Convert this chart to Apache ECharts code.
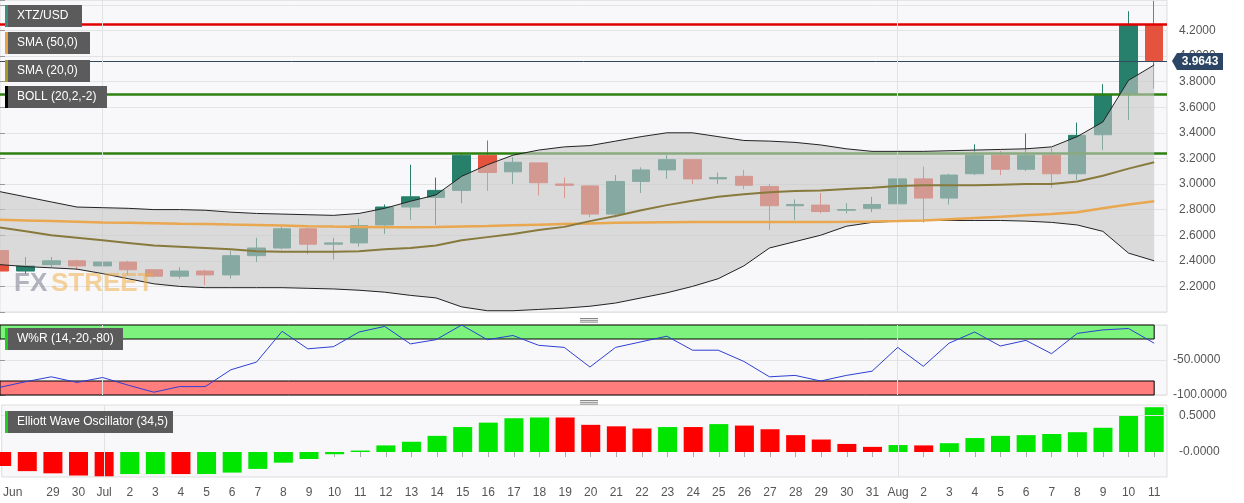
<!DOCTYPE html>
<html><head><meta charset="utf-8">
<script src="https://cdn.jsdelivr.net/npm/echarts@6/dist/echarts.min.js"></script>
<style>html,body{margin:0;padding:0;background:#fff}#c{width:1244px;height:503px}</style>
</head><body><div id="c"></div>
<script>
const dates=['Jun','','29','30','Jul','2','3','4','5','6','7','8','9','10','11','12','13','14','15','16','17','18','19','20','21','22','23','24','25','26','27','28','29','30','31','Aug','2','3','4','5','6','7','8','9','10','11'];
const opens=[2.48,2.32,2.37,2.40,2.36,2.39,2.33,2.28,2.32,2.29,2.44,2.50,2.65,2.53,2.54,2.68,2.82,2.895,2.95,3.225,3.095,3.165,3.0,2.985,2.765,3.02,3.11,3.19,3.04,3.06,2.98,2.83,2.835,2.795,2.81,2.845,3.04,2.89,3.08,3.225,3.115,3.225,3.08,3.385,3.70,4.24];
const closes=[2.32,2.36,2.40,2.36,2.39,2.33,2.28,2.32,2.29,2.44,2.50,2.65,2.53,2.54,2.675,2.82,2.90,2.95,3.225,3.09,3.17,3.01,2.99,2.765,3.02,3.11,3.19,3.04,3.05,2.99,2.83,2.84,2.785,2.80,2.84,3.04,2.89,3.07,3.225,3.115,3.225,3.08,3.38,3.70,4.24,3.9643];
const lows=[2.29,2.30,2.35,2.33,2.34,2.29,2.27,2.26,2.21,2.26,2.39,2.49,2.45,2.41,2.51,2.61,2.72,2.68,2.85,2.945,3.0,2.91,2.89,2.74,2.74,2.93,3.04,3.0,3.0,2.96,2.64,2.72,2.77,2.77,2.78,2.82,2.70,2.84,3.07,3.07,3.10,2.97,3.03,3.265,3.50,3.745];
const highs=[2.50,2.43,2.43,2.41,2.43,2.40,2.33,2.35,2.33,2.48,2.58,2.68,2.66,2.58,2.73,2.84,3.15,3.05,3.24,3.34,3.21,3.17,3.05,2.99,3.07,3.13,3.225,3.19,3.09,3.11,3.0,2.88,2.93,2.85,2.90,3.07,3.135,3.08,3.31,3.26,3.395,3.28,3.48,3.78,4.35,4.43];
const bollUpper=[2.94,2.90,2.86,2.82,2.815,2.81,2.80,2.80,2.795,2.78,2.77,2.765,2.76,2.755,2.77,2.81,2.865,2.915,3.06,3.15,3.225,3.265,3.29,3.30,3.335,3.37,3.40,3.40,3.37,3.34,3.335,3.325,3.305,3.275,3.255,3.255,3.255,3.26,3.265,3.27,3.275,3.29,3.37,3.485,3.81,3.93];
const bollLower=[2.37,2.355,2.345,2.335,2.30,2.26,2.22,2.20,2.19,2.19,2.19,2.19,2.185,2.18,2.17,2.155,2.13,2.11,2.04,2.01,2.01,2.02,2.03,2.045,2.07,2.11,2.15,2.20,2.26,2.36,2.50,2.55,2.60,2.67,2.70,2.71,2.715,2.715,2.715,2.715,2.71,2.70,2.68,2.63,2.46,2.40];
const sma20=[2.66,2.63,2.60,2.58,2.56,2.54,2.52,2.51,2.50,2.49,2.475,2.47,2.47,2.47,2.475,2.49,2.50,2.52,2.56,2.585,2.61,2.64,2.665,2.71,2.75,2.795,2.835,2.87,2.90,2.92,2.935,2.945,2.95,2.96,2.97,2.985,2.99,2.99,2.99,2.995,3.0,3.0,3.02,3.065,3.12,3.17];
const sma50=[2.72,2.715,2.71,2.705,2.70,2.697,2.694,2.69,2.687,2.683,2.68,2.675,2.67,2.667,2.665,2.663,2.662,2.664,2.668,2.672,2.677,2.682,2.687,2.692,2.697,2.70,2.702,2.703,2.703,2.703,2.703,2.703,2.704,2.705,2.707,2.71,2.715,2.725,2.735,2.745,2.755,2.765,2.78,2.81,2.84,2.865];
const wr=[-89,-81,-74,-82,-75,-86,-96,-88,-88,-64,-53,-9,-34,-31,-10,-2,-27,-21,0,-21,-15,-29,-32,-60,-32,-24,-16,-36,-36,-52,-74,-72,-80,-72,-66,-32,-59,-26,-10,-30,-22,-41,-12,-7,-5,-26];
const ewo=[-0.19,-0.26,-0.29,-0.32,-0.33,-0.30,-0.30,-0.30,-0.30,-0.28,-0.23,-0.145,-0.095,-0.03,0.02,0.09,0.14,0.22,0.34,0.40,0.46,0.47,0.47,0.37,0.35,0.32,0.34,0.34,0.38,0.36,0.31,0.23,0.17,0.11,0.07,0.095,0.09,0.12,0.19,0.22,0.23,0.245,0.27,0.33,0.50,0.61];
const ewoUp=[false,false,false,false,false,true,true,false,true,true,true,true,true,true,true,true,true,true,true,true,true,true,false,false,false,false,true,false,true,false,false,false,false,false,false,true,false,true,true,true,true,true,true,true,true,true];
const levels={resist:4.255,sup1:3.70,sup2:3.24,last:3.9643};
const monthStarts=[4,35];

const pts=a=>a.map((v,i)=>[i,v]);
const bandData=bollUpper.map((u,i)=>[i,bollLower[i],u]);
const last=dates.length-1;
const chart=echarts.init(document.getElementById('c'));
const lbl={color:'#555',fontSize:12,fontFamily:'Arial, Liberation Sans, sans-serif'};
const vl=monthStarts.map(x=>({xAxis:x,lineStyle:{color:'#e2e2e2',width:1,type:'solid'}}));
function box(x,y,w,h,text,strip){
  return [{type:'rect',shape:{x:x,y:y,width:w,height:h},style:{fill:'#5b5b5b'},z:100},
          {type:'rect',shape:{x:x,y:y,width:3,height:h},style:{fill:strip},z:101},
          {type:'text',x:x+12,y:y+h/2,style:{text:text,fill:'#fff',font:'12px Arial, Liberation Sans, sans-serif',textVerticalAlign:'middle'},z:101}];
}
function grip(y){return [0,3,6].map(d=>({type:'rect',shape:{x:580,y:y+d*0.6,width:18,height:1},style:{fill:'#888'},z:100}));}
const option={
  animation:false,backgroundColor:'#fff',
  grid:[
    {left:0,right:77,top:0,height:312,show:true,backgroundColor:'#f8f8fa',borderColor:'#ddd'},
    {left:0,right:77,top:325,height:70,show:true,backgroundColor:'#f8f8fa',borderColor:'#ddd'},
    {left:0,right:77,top:405,height:72,show:true,backgroundColor:'#f8f8fa',borderColor:'#ddd'}],
  xAxis:[0,1,2].map(i=>({type:'value',gridIndex:i,min:0,max:last+0.5,interval:1,
    axisLine:{show:false},axisTick:{show:i===2,lineStyle:{color:'#aaa'}},
    axisLabel:{show:i===2,showMaxLabel:false,margin:10,...lbl,formatter:(v)=>{const t=dates[v]||'';return v===0?'{a|'+t+'}':t;},rich:{a:{padding:[0,0,0,22],...lbl}}},
    splitLine:{show:false}})),
  yAxis:[
    {type:'value',gridIndex:0,position:'right',min:2.0,max:4.4375,interval:0.2,axisLine:{show:false},axisTick:{show:true,lineStyle:{color:'#999'}},
     axisLabel:{...lbl,margin:12,formatter:v=>(v<2.1||v>4.3)?'':v.toFixed(4)},splitLine:{lineStyle:{color:'#e4e4e4'}}},
    {type:'value',gridIndex:1,position:'right',min:-100,max:0,interval:50,axisLine:{show:false},axisTick:{show:true,lineStyle:{color:'#999'}},
     axisLabel:{...lbl,margin:6,formatter:v=>v===0?'':v.toFixed(4)},splitLine:{lineStyle:{color:'#e4e4e4'}}},
    {type:'value',gridIndex:2,position:'right',min:-0.34,max:0.64,axisLine:{show:false},
     axisTick:{show:true,customValues:[0,0.5],lineStyle:{color:'#999'}},
     axisLabel:{...lbl,margin:12,customValues:[0,0.5],formatter:v=>v===0?'-0.0000':v.toFixed(4)},splitLine:{show:false}}],
  series:[
    {type:'candlestick',xAxisIndex:0,yAxisIndex:0,barWidth:18,z:2,
     data:opens.map((o,i)=>[i,o,closes[i],lows[i],highs[i]]),encode:{x:0,y:[1,2,3,4]},
     itemStyle:{color:'#26806b',color0:'#e5533f',borderColor:'#26806b',borderColor0:'#e5533f',borderWidth:1},
     markLine:{silent:true,symbol:'none',label:{show:false},data:[
       {yAxis:levels.resist,lineStyle:{color:'#e00000',width:2.5,type:'solid'}},
       {yAxis:levels.sup1,lineStyle:{color:'#2e8010',width:2.5,type:'solid'}},
       {yAxis:levels.sup2,lineStyle:{color:'#2e8010',width:2.5,type:'solid'}},
       {yAxis:levels.last,lineStyle:{color:'#34495e',width:1,type:'solid'}},...vl]}},
    {type:'custom',xAxisIndex:0,yAxisIndex:0,z:5,silent:true,data:bandData,encode:{x:0,y:[1,2]},
     renderItem:(params,api)=>{
       if(params.dataIndex!==0) return null;
       const up=[],lo=[];
       for(let i=0;i<bandData.length;i++){up.push(api.coord([bandData[i][0],bandData[i][2]]));lo.push(api.coord([bandData[i][0],bandData[i][1]]));}
       return {type:'polygon',shape:{points:up.concat(lo.reverse())},style:{fill:'rgba(198,198,198,0.6)'}};
     }},
    {type:'line',xAxisIndex:0,yAxisIndex:0,data:pts(bollUpper),symbol:'none',lineStyle:{color:'#222',width:1},z:6},
    {type:'line',xAxisIndex:0,yAxisIndex:0,data:pts(bollLower),symbol:'none',lineStyle:{color:'#222',width:1},z:6},
    {type:'line',xAxisIndex:0,yAxisIndex:0,data:pts(sma50),symbol:'none',lineStyle:{color:'#e9a750',width:2.5},z:6},
    {type:'line',xAxisIndex:0,yAxisIndex:0,data:pts(sma20),symbol:'none',lineStyle:{color:'#877a3c',width:2},z:6},
    {type:'line',xAxisIndex:1,yAxisIndex:1,data:pts(wr),symbol:'none',lineStyle:{color:'#2d3fd3',width:1},z:6,
     markArea:{silent:true,data:[
       [{xAxis:0,yAxis:0,itemStyle:{color:'#7df27d',borderColor:'#000',borderWidth:1}},{xAxis:last,yAxis:-20}],
       [{xAxis:0,yAxis:-80,itemStyle:{color:'#ff7d7d',borderColor:'#000',borderWidth:1}},{xAxis:last,yAxis:-100}]]},
     markLine:{silent:true,symbol:'none',label:{show:false},data:vl}},
    {type:'bar',xAxisIndex:2,yAxisIndex:2,barWidth:19,z:3,
     data:ewo.map((v,i)=>({value:[i,v],itemStyle:{color:ewoUp[i]?'#00e600':'#ff0000'}})),
     markLine:{silent:true,symbol:'none',label:{show:false},data:[
       {yAxis:0.5,lineStyle:{color:'#e4e4e4',width:1,type:'solid'}},...vl]}}
  ],
  graphic:[
    ...box(5,5,77,22,'XTZ/USD','#3a8f80'),
    ...box(5,32,85,22,'SMA (50,0)','#e9a04a'),
    ...box(5,60,85,22,'SMA (20,0)','#a89a2a'),
    ...box(5,86,102,22,'BOLL (20,2,-2)','#000'),
    ...box(5,328,118,22,'W%R (14,-20,-80)','#22cc22'),
    ...box(5,411,168,22,'Elliott Wave Oscillator (34,5)','#22cc22'),
    ...grip(318),...grip(400),
    {type:'text',x:14,y:284,style:{text:'FX',fill:'rgba(120,120,140,0.55)',font:'bold 26px Arial, sans-serif',textVerticalAlign:'middle'},z:50},
    {type:'text',x:51,y:284,style:{text:'STREET',fill:'rgba(240,170,60,0.5)',font:'bold 26px Arial, sans-serif',textVerticalAlign:'middle'},z:50},
    {type:'polygon',shape:{points:[[1172,61],[1177,53],[1223,53],[1223,70],[1177,70]]},style:{fill:'#2c4564'},z:100},
    {type:'text',x:1200,y:62,style:{text:'3.9643',fill:'#fff',font:'bold 12px Arial, sans-serif',textAlign:'center',textVerticalAlign:'middle'},z:101}
  ]
};
chart.setOption(option);
</script></body></html>
